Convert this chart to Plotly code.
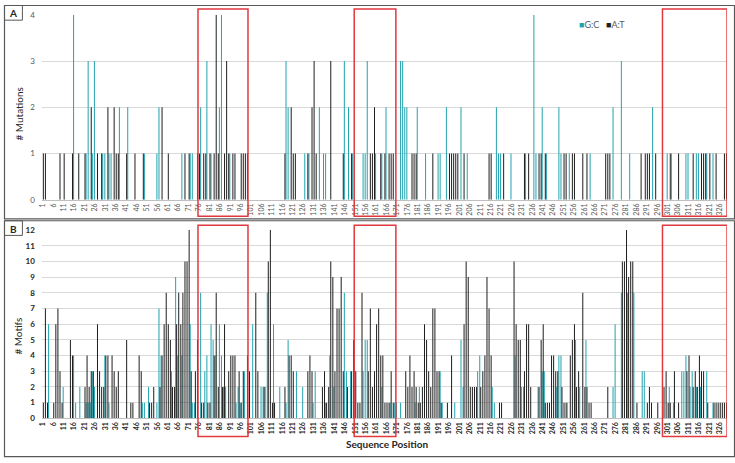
import plotly.graph_objects as go

# ---------------- data ----------------
N_POS = 329
positions = list(range(1, N_POS + 1))
tick_positions = list(range(1, N_POS + 1, 5))
tick_labels = [str(p) for p in tick_positions]

# Panel A: mutations per position
mut_gc_pos = [16, 22, 23, 25, 26, 30, 31, 33, 34, 38, 42, 50, 56, 57, 68, 72, 73, 77, 80, 82, 86, 87, 91,
              118, 119, 127, 129, 134, 136, 137, 146, 148, 150, 155, 156, 157, 161, 164, 166, 173, 174, 175,
              176, 181, 185, 191, 192, 195, 202, 205, 219, 220, 221, 226, 233, 237, 238, 241, 243, 249, 250,
              254, 264, 275, 279, 283, 294, 301, 303, 310, 311, 315, 316, 320, 323]
mut_gc_val = [4, 1, 3, 1, 3, 1, 1, 1, 1, 2, 2, 1, 1, 2, 1, 1, 1, 2, 3, 1, 2, 4, 1,
              3, 2, 1, 1, 2, 1, 1, 3, 2, 1, 1, 1, 3, 1, 1, 2, 3, 3, 2,
              2, 2, 1, 1, 1, 2, 2, 1, 2, 1, 1, 1, 1, 4, 1, 2, 1, 2, 1,
              1, 1, 2, 3, 1, 2, 1, 1, 1, 1, 1, 1, 1, 1]
mut_at_pos = [1, 2, 9, 11, 15, 18, 21, 24, 27, 29, 32, 35, 36, 37, 41, 45, 49, 58, 61, 69, 71, 75, 76, 78,
              79, 81, 83, 84, 85, 88, 89, 90, 92, 93, 96, 97, 98, 99, 117, 120, 121, 122, 128, 130, 131,
              132, 139, 145, 149, 158, 159, 160, 163, 165, 167, 168, 169, 178, 179, 180, 188, 196, 197,
              198, 199, 200, 203, 215, 216, 222, 232, 234, 239, 240, 242, 251, 252, 255, 256, 260, 262,
              271, 272, 273, 288, 290, 291, 292, 295, 302, 306, 313, 317, 318, 319, 321, 324, 328, 329]
mut_at_val = [1, 1, 1, 1, 1, 1, 1, 2, 1, 1, 2, 2, 1, 1, 1, 1, 1, 2, 1, 1, 1, 1, 1, 1,
              1, 1, 1, 4, 1, 1, 3, 1, 1, 1, 1, 1, 1, 1, 1, 2, 1, 1, 1, 2, 3,
              1, 3, 1, 1, 1, 1, 2, 1, 1, 1, 1, 1, 1, 1, 1, 1, 1, 1,
              1, 1, 1, 1, 1, 1, 1, 1, 1, 1, 1, 1, 1, 1, 1, 1, 1, 1,
              1, 1, 1, 1, 1, 1, 1, 1, 1, 1, 1, 1, 1, 1, 1, 1, 1, 1]

# Panel B: motifs per position
mot_gc_pos = [4, 11, 16, 17, 19, 22, 23, 24, 25, 26, 31, 33, 49, 50, 52, 56, 57, 58, 63, 65, 66, 68, 72,
              73, 74, 77, 79, 80, 82, 83, 84, 86, 87, 88, 89, 94, 95, 96, 98, 102, 106, 107, 108, 109,
              112, 115, 118, 119, 123, 126, 131, 132, 137, 139, 141, 146, 147, 149, 155, 156, 157, 164,
              168, 170, 171, 173, 180, 182, 192, 193, 199, 202, 203, 210, 211, 217, 218, 228, 231, 232,
              239, 241, 242, 248, 249, 250, 253, 257, 259, 262, 275, 276, 279, 282, 285, 289, 290, 302,
              304, 308, 309, 310, 312, 313, 315, 317, 320, 323]
mot_gc_val = [6, 2, 4, 1, 2, 1, 1, 1, 3, 2, 4, 1, 1, 1, 2, 1, 7, 4, 3, 9, 4, 4, 6,
              1, 1, 8, 3, 4, 6, 5, 4, 6, 4, 2, 2, 1, 2, 1, 3, 6, 2, 2, 2, 8,
              6, 2, 1, 5, 3, 2, 1, 3, 1, 4, 2, 8, 3, 3, 3, 5, 5, 2,
              1, 1, 1, 1, 1, 2, 3, 1, 1, 5, 2, 3, 4, 2, 1, 4, 2, 2,
              2, 3, 3, 2, 4, 4, 1, 5, 2, 5, 2, 6, 8, 8, 8, 3, 3, 2,
              1, 3, 3, 4, 2, 3, 2, 2, 3, 1]
mot_at_pos = [1, 2, 3, 6, 7, 8, 9, 10, 14, 15, 21, 22, 23, 24, 25, 27, 28, 29, 30, 31, 32, 34, 35, 36, 37,
              41, 43, 44, 47, 48, 52, 53, 54, 57, 58, 59, 60, 61, 62, 63, 64, 65, 66, 67, 68, 69, 70, 71,
              72, 74, 75, 77, 78, 80, 81, 83, 84, 85, 87, 88, 90, 91, 92, 93, 95, 96, 97, 99, 100,
              103, 104, 107, 109, 110, 111, 112, 117, 119, 120, 121, 128, 129, 130, 135, 136, 137, 138,
              139, 140, 141, 142, 143, 144, 145, 147, 149, 150, 151, 152, 153, 154, 157, 158, 159, 160,
              161, 162, 163, 164, 165, 166, 167, 168, 169, 175, 176, 177, 178, 179, 180, 181, 182, 183,
              184, 185, 186, 187, 188, 189, 190, 191, 192, 195, 197, 203, 204, 205, 206, 207, 208, 209,
              211, 212, 213, 214, 215, 216, 220, 221, 227, 228, 229, 230, 232, 233, 234, 235, 239, 240,
              241, 242, 243, 244, 245, 246, 247, 248, 250, 251, 252, 254, 255, 256, 257, 258, 260, 261,
              262, 263, 264, 272, 279, 280, 281, 282, 283, 284, 286, 291, 292, 293, 296, 299, 300, 301,
              302, 304, 306, 310, 311, 313, 314, 315, 316, 317, 318, 320, 323, 324, 325, 326, 327, 328, 329]
mot_at_val = [1, 7, 1, 1, 6, 7, 3, 1, 5, 4, 2, 4, 2, 3, 3, 6, 3, 2, 2, 4, 4, 4, 3, 2, 3,
              5, 1, 1, 4, 3, 1, 1, 2, 2, 4, 6, 8, 6, 5, 2, 2, 6, 8, 6, 8, 10, 10, 12,
              3, 3, 5, 1, 1, 1, 1, 4, 8, 2, 2, 6, 3, 4, 4, 4, 3, 1, 3, 4, 3,
              8, 3, 2, 10, 12, 1, 1, 2, 4, 4, 3, 3, 4, 3, 2, 3, 1, 2,
              10, 9, 3, 7, 7, 9, 3, 2, 3, 5, 3, 1, 1, 8, 3, 7, 2, 3,
              6, 7, 4, 4, 1, 1, 1, 3, 1, 3, 2, 4, 2, 3, 2, 1, 1, 2,
              6, 5, 3, 2, 7, 7, 3, 3, 1, 1, 4, 6, 10, 9, 2, 2, 2, 2,
              2, 3, 4, 9, 7, 4, 1, 1, 10, 6, 5, 5, 3, 6, 6, 2, 2, 5,
              6, 1, 1, 1, 4, 4, 3, 3, 2, 1, 1, 4, 5, 6, 2, 3, 8, 2,
              2, 1, 1, 2, 10, 10, 12, 9, 10, 10, 1, 1, 2, 1, 1, 2, 3, 1,
              1, 3, 1, 3, 4, 2, 3, 2, 4, 3, 3, 1, 1, 1, 1, 1, 1, 1, 1]

# highlighted sequence regions (first, last position)
hl_first = [76, 151, 299]
hl_last = [99, 170, 329]

series_names = ["G:C", "A:T"]


def expand(pos, val):
    arr = [0] * N_POS
    for p, v in zip(pos, val):
        arr[p - 1] = v
    return arr


mut_gc = expand(mut_gc_pos, mut_gc_val)
mut_at = expand(mut_at_pos, mut_at_val)
mot_gc = expand(mot_gc_pos, mot_gc_val)
mot_at = expand(mot_at_pos, mot_at_val)

# ---------------- styling ----------------
W, H = 735, 463
GC_COLOR = "#22A3B0"
AT_COLOR = "#1E1E1E"
GRID = "#D9D9D9"
FONT = "Lato"
DARK = "#262626"
GREY = "#595959"


def px(x):
    return x / W


def py(y):
    return 1 - y / H


fig = go.Figure()
for ys, color, name in [(mut_gc, GC_COLOR, series_names[0]), (mut_at, AT_COLOR, series_names[1])]:
    fig.add_trace(go.Bar(x=positions, y=ys, name=name, marker_color=color, marker_line_width=0,
                         xaxis="x", yaxis="y", showlegend=False))
for ys, color, name in [(mot_gc, GC_COLOR, series_names[0]), (mot_at, AT_COLOR, series_names[1])]:
    fig.add_trace(go.Bar(x=positions, y=ys, name=name, marker_color=color, marker_line_width=0,
                         xaxis="x2", yaxis="y2", showlegend=False))

xdom = [px(38), px(727)]
common_x = dict(domain=xdom, range=[0.5, N_POS + 0.5], tickmode="array", tickvals=tick_positions,
                ticktext=tick_labels, tickangle=-90, showgrid=False, zeroline=False,
                showline=True, linecolor="#BFBFBF", linewidth=1, ticks="", fixedrange=True)

fig.update_layout(
    width=W, height=H, margin=dict(l=0, r=0, t=0, b=0),
    paper_bgcolor="white", plot_bgcolor="white",
    barmode="group", bargap=0.04, bargroupgap=0,
    font=dict(family=FONT, color="#404040"),
    xaxis=dict(anchor="y", tickfont=dict(size=7, color=GREY, family=FONT), **common_x),
    xaxis2=dict(anchor="y2", tickfont=dict(size=7, color=DARK, family=FONT, weight="bold"), **common_x),
    yaxis=dict(domain=[py(199), py(10)], range=[0, 4], dtick=1, gridcolor=GRID, gridwidth=1,
               zeroline=False, showline=False, tickfont=dict(size=8, color=GREY, family=FONT),
               ticklabelstandoff=6),
    yaxis2=dict(domain=[py(422.5), py(230)], range=[0, 12], dtick=1, gridcolor=GRID, gridwidth=1,
                zeroline=False, showline=False, tickfont=dict(size=8, color=DARK, family=FONT, weight="bold"),
                ticklabelstandoff=6),
)

shapes = []
# panel frames
for y0, y1 in [(0.5, 218.5), (220.5, 461.5)]:
    shapes.append(dict(type="rect", xref="paper", yref="paper", x0=px(0.5), x1=px(734.5),
                       y0=py(y1), y1=py(y0), line=dict(color=GREY, width=1.2)))
# panel label boxes
for y0 in [0.5, 220.5]:
    shapes.append(dict(type="rect", xref="paper", yref="paper", x0=px(0.5), x1=px(18.5),
                       y0=py(y0 + 15), y1=py(y0), line=dict(color=GREY, width=1)))
# highlight boxes
for f, l in zip(hl_first, hl_last):
    for ytop, ybot in [(4, 216), (225, 441)]:
        shapes.append(dict(type="rect", xref="x", yref="paper", x0=f - 0.5, x1=l + 0.5,
                           y0=py(ybot), y1=py(ytop), line=dict(color="#E0393E", width=1.5)))
fig.update_layout(shapes=shapes)


def note(text, x, y, size, color=DARK, bold=False, angle=0, xanchor="center"):
    return dict(text=text, x=px(x), y=py(y), xref="paper", yref="paper", showarrow=False,
                xanchor=xanchor, yanchor="middle", textangle=angle,
                font=dict(size=size, color=color, family=FONT, weight="bold" if bold else "normal"))


ann = [
    note("A", 9.5, 8, 10, bold=True),
    note("B", 9.5, 228.5, 10, bold=True),
    note("# Mutations", 15, 111, 10, angle=-90),
    note("# Motifs", 14, 338, 10, angle=-90),
    note("Sequence Position", 385, 449, 10, bold=True),
    note("<span style='color:%s'>■</span>%s" % (GC_COLOR, series_names[0]), 576, 20, 9, GREY, xanchor="left"),
    note("<span style='color:%s'>■</span>%s" % (AT_COLOR, series_names[1]), 603, 20, 9, GREY, xanchor="left"),
]
fig.update_layout(annotations=ann)

fig.write_html("out.html", config={"staticPlot": True},
               post_script="document.body.style.margin='0px';document.body.style.overflow='hidden';")
